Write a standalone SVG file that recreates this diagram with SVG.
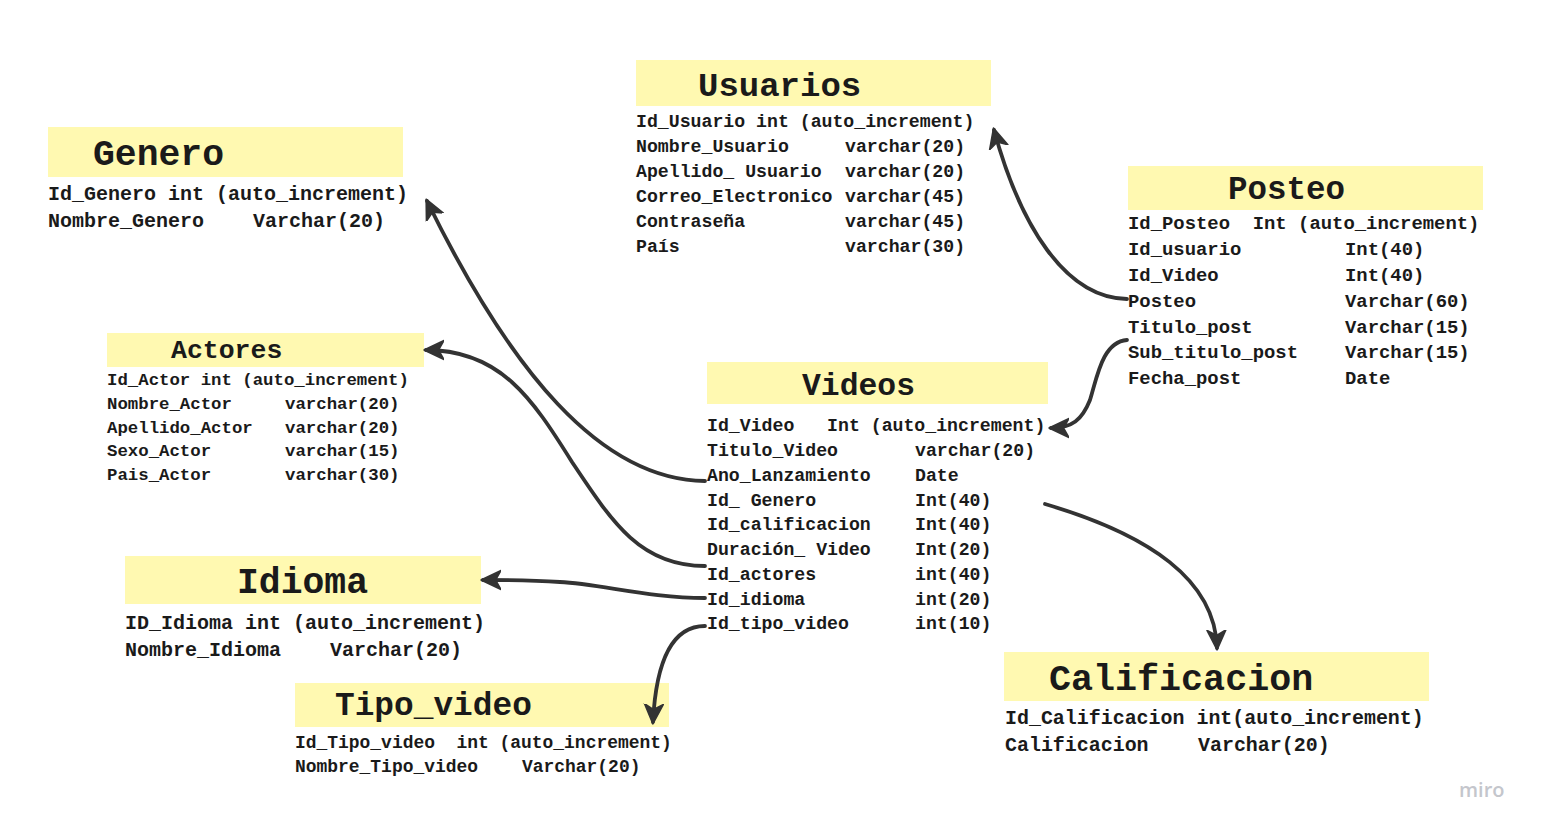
<svg xmlns="http://www.w3.org/2000/svg" width="1544" height="833" viewBox="0 0 1544 833" xml:space="preserve">
<style>
.hdr{fill:#fff9b1}
text{font-family:"Liberation Mono","DejaVu Sans Mono",monospace;font-weight:bold;fill:#1a1a1a;white-space:pre}
.conn{fill:none;stroke:#333333;stroke-width:3.8;stroke-linecap:round;marker-end:url(#arr)}
.miro{font-family:"Open Sans","Noto Sans",sans-serif;font-weight:600;fill:#c4c6cc;font-size:20px}
</style>
<defs>
<marker id="arr" viewBox="0 0 22 22" refX="18" refY="11" markerWidth="22" markerHeight="22" markerUnits="userSpaceOnUse" orient="auto">
<path d="M0,1.5 L20,11 L0,20.5 L5.5,11 z" fill="#333333" stroke="#333333" stroke-width="1.5" stroke-linejoin="round"/>
</marker>
</defs>
<rect width="1544" height="833" fill="#ffffff"/>

<g id="genero">
<rect class="hdr" x="48" y="127" width="355" height="50"/>
<text x="93" y="165" font-size="36.4">Genero</text>
<text font-size="20"><tspan x="48" y="200">Id_Genero int (auto_increment)</tspan><tspan x="48" y="227">Nombre_Genero</tspan><tspan x="253" y="227">Varchar(20)</tspan></text>
</g>

<g id="usuarios">
<rect class="hdr" x="636" y="60" width="355" height="46"/>
<text x="698" y="96" font-size="34">Usuarios</text>
<text font-size="18.2"><tspan x="636" y="127">Id_Usuario int (auto_increment)</tspan><tspan x="636" y="152">Nombre_Usuario</tspan><tspan x="845" y="152">varchar(20)</tspan><tspan x="636" y="177">Apellido_ Usuario</tspan><tspan x="845" y="177">varchar(20)</tspan><tspan x="636" y="202">Correo_Electronico</tspan><tspan x="845" y="202">varchar(45)</tspan><tspan x="636" y="227">Contraseña</tspan><tspan x="845" y="227">varchar(45)</tspan><tspan x="636" y="252">País</tspan><tspan x="845" y="252">varchar(30)</tspan></text>
</g>

<g id="posteo">
<rect class="hdr" x="1128" y="166" width="355" height="44"/>
<text x="1228" y="199" font-size="32.5">Posteo</text>
<text font-size="18.9"><tspan x="1128" y="229">Id_Posteo  Int (auto_increment)</tspan><tspan x="1128" y="255">Id_usuario</tspan><tspan x="1345" y="255">Int(40)</tspan><tspan x="1128" y="281">Id_Video</tspan><tspan x="1345" y="281">Int(40)</tspan><tspan x="1128" y="307">Posteo</tspan><tspan x="1345" y="307">Varchar(60)</tspan><tspan x="1128" y="333">Titulo_post</tspan><tspan x="1345" y="333">Varchar(15)</tspan><tspan x="1128" y="358">Sub_titulo_post</tspan><tspan x="1345" y="358">Varchar(15)</tspan><tspan x="1128" y="384">Fecha_post</tspan><tspan x="1345" y="384">Date</tspan></text>
</g>

<g id="videos">
<rect class="hdr" x="707" y="362" width="341" height="42"/>
<text x="802" y="395" font-size="31.4">Videos</text>
<text font-size="18.2"><tspan x="707" y="431">Id_Video   Int (auto_increment)</tspan><tspan x="707" y="456">Titulo_Video</tspan><tspan x="915" y="456">varchar(20)</tspan><tspan x="707" y="481">Ano_Lanzamiento</tspan><tspan x="915" y="481">Date</tspan><tspan x="707" y="506">Id_ Genero</tspan><tspan x="915" y="506">Int(40)</tspan><tspan x="707" y="530">Id_calificacion</tspan><tspan x="915" y="530">Int(40)</tspan><tspan x="707" y="555">Duración_ Video</tspan><tspan x="915" y="555">Int(20)</tspan><tspan x="707" y="580">Id_actores</tspan><tspan x="915" y="580">int(40)</tspan><tspan x="707" y="605">Id_idioma</tspan><tspan x="915" y="605">int(20)</tspan><tspan x="707" y="629">Id_tipo_video</tspan><tspan x="915" y="629">int(10)</tspan></text>
</g>

<g id="actores">
<rect class="hdr" x="107" y="333" width="317" height="34"/>
<text x="171" y="358" font-size="26.5">Actores</text>
<text font-size="17.35"><tspan x="107" y="385">Id_Actor int (auto_increment)</tspan><tspan x="107" y="409">Nombre_Actor</tspan><tspan x="285" y="409">varchar(20)</tspan><tspan x="107" y="433">Apellido_Actor</tspan><tspan x="285" y="433">varchar(20)</tspan><tspan x="107" y="456">Sexo_Actor</tspan><tspan x="285" y="456">varchar(15)</tspan><tspan x="107" y="480">Pais_Actor</tspan><tspan x="285" y="480">varchar(30)</tspan></text>
</g>

<g id="idioma">
<rect class="hdr" x="125" y="556" width="356" height="48"/>
<text x="237" y="593" font-size="36.4">Idioma</text>
<text font-size="20"><tspan x="125" y="629">ID_Idioma int (auto_increment)</tspan><tspan x="125" y="656">Nombre_Idioma</tspan><tspan x="330" y="656">Varchar(20)</tspan></text>
</g>

<g id="tipo_video">
<rect class="hdr" x="295" y="683" width="374" height="44"/>
<text x="335" y="715" font-size="32.8">Tipo_video</text>
<text font-size="17.95"><tspan x="295" y="748">Id_Tipo_video  int (auto_increment)</tspan><tspan x="295" y="772">Nombre_Tipo_video</tspan><tspan x="522" y="772">Varchar(20)</tspan></text>
</g>

<g id="calificacion">
<rect class="hdr" x="1004" y="652" width="425" height="49"/>
<text x="1049" y="690" font-size="36.7">Calificacion</text>
<text font-size="19.95"><tspan x="1005" y="724">Id_Calificacion int(auto_increment)</tspan><tspan x="1005" y="751">Calificacion</tspan><tspan x="1198" y="751">Varchar(20)</tspan></text>
</g>

<g id="connectors">
<path class="conn" d="M1127,299 C1065,298 1020,225 994,130"/>
<path class="conn" d="M1127,340 C1102,342 1097,378 1090,400 C1082,420 1072,428 1051,428"/>
<path class="conn" d="M705,481 C600,480 510,370 427,201"/>
<path class="conn" d="M705,566 C640,566 612,522 572,462 C532,398 500,350 426,350"/>
<path class="conn" d="M705,598 C650,598 600,584 560,582 C530,580 505,580 483,580"/>
<path class="conn" d="M705,626 C672,626 656,662 653,722"/>
<path class="conn" d="M1045,504 C1150,535 1215,580 1217,648"/>
</g>

<text class="miro" x="1459" y="797">miro</text>
</svg>
